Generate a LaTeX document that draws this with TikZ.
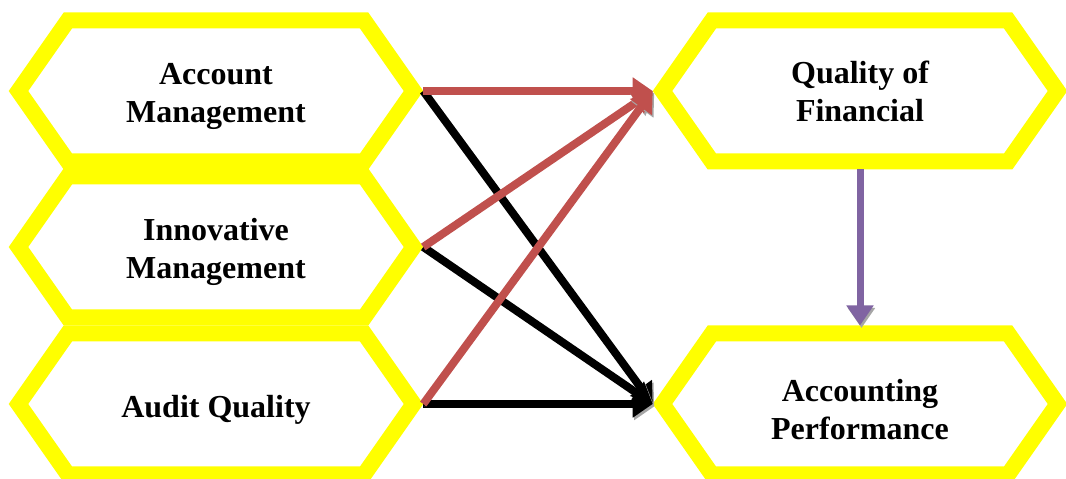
\documentclass[tikz,border=0pt]{standalone}
\usepackage{fontspec}
\setmainfont{Liberation Serif}
\usetikzlibrary{arrows.meta, positioning, shapes.symbols}

\definecolor{hexyellow}{RGB}{255,255,0}
\definecolor{arrred}{RGB}{192,80,77}
\definecolor{arrpurple}{RGB}{128,100,162}

\begin{document}
\begin{tikzpicture}[
            x=1pt, y=1pt,
            hexbox/.style = {signal, signal to=west and east, signal pointer angle=110,
                draw=hexyellow, line width=16pt, fill=white,
                minimum width=395pt, minimum height=141pt, inner sep=0pt,
                align=center, font=\fontsize{32}{38}\selectfont\bfseries},
            droptext/.style = {text height=#1},
            withshadow/.style = {preaction={draw=black!35,
                transform canvas={shift={(1.5pt,-2.5pt)}}}},
            relation/.style = {line width=8pt,
                -{Triangle[length=20pt,width=26pt]}, withshadow}]
            \useasboundingbox (0,0) rectangle (1066,479);
            % hexagons
            \node[hexbox, droptext=71pt] (acc) at (216,388) {Account\\Management};
            \node[hexbox, droptext=71pt] (inn) at (216,232) {Innovative\\Management};
            \node[hexbox, droptext=33pt] (aud) at (216,75) {Audit Quality};
            \node[hexbox] (qual) at (860,388) {Quality of\\Financial};
            \node[hexbox, droptext=71pt] (perf) at (860,75) {Accounting\\Performance};
            % links to performance
            \draw[relation, black] (acc.east) -- (perf.west);
            \draw[relation, black] (inn.east) -- (perf.west);
            \draw[relation, black] (aud.east) -- (perf.west);
            % links to quality
            \draw[relation, arrred] (acc.east) -- (qual.west);
            \draw[relation, arrred] (inn.east) -- (qual.west);
            \draw[relation, arrred] (aud.east) -- (qual.west);
            \draw[relation, arrpurple, line width=7pt] (qual.south) -- (perf.north);
        \end{tikzpicture}
\end{document}
